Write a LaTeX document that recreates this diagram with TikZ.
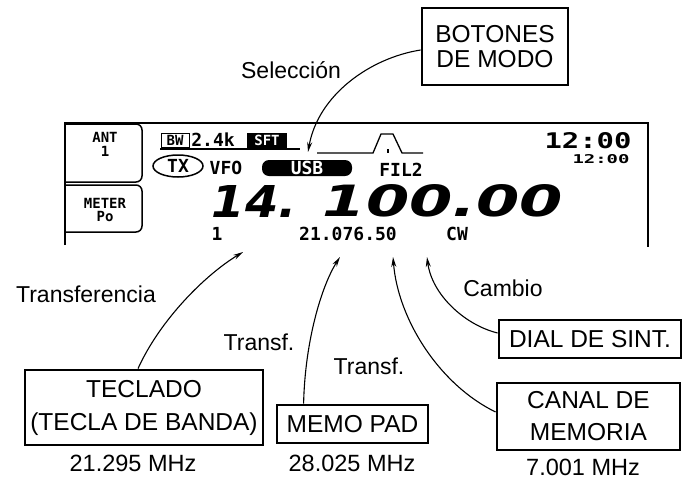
\documentclass[tikz,border=0pt]{standalone}
\usepackage{fontspec}
\setmainfont{Liberation Sans}
\newfontfamily\lcdfont{DejaVu Sans Mono}
\newfontfamily\bigfont{DejaVu Sans}
\usetikzlibrary{arrows.meta,shapes.geometric}
\begin{document}
\begin{tikzpicture}[x=1pt,y=-1pt,
  box/.style={draw,line width=2.8pt,inner sep=0pt,align=center,font=\fontsize{24.5}{28}\selectfont},
  lbl/.style={inner sep=0pt,font=\fontsize{23}{27}\selectfont},
  mhz/.style={inner sep=0pt,font=\fontsize{23.5}{27}\selectfont},
  conn/.style={line width=1.1pt,-{Stealth[length=10pt,width=5pt]}},
  frameline/.style={line width=1.8pt},
  keybox/.style={line width=1.5pt,rounded corners=6pt},
  lcd/.style={inner sep=0pt,font=\lcdfont\bfseries\fontsize{18}{18}\selectfont},
  lcdsmall/.style={inner sep=0pt,font=\lcdfont\bfseries\fontsize{14}{14}\selectfont},
]
\fill[white] (0,0) rectangle (684,479);
\useasboundingbox (0,0) rectangle (684,479);

% display frame
\draw[frameline] (65,245) -- (65,123) -- (648,123) -- (648,247);
\draw[keybox] (65,124) -- (142,124) -- (142,182) -- (65,182);
\draw[keybox] (65,185) -- (142,185) -- (142,232) -- (65,232);
\node[lcdsmall] (ant) at (105,137) {ANT};
\node[lcdsmall] (antone) at (105,151) {1};
\node[lcdsmall] (meter) at (105,203) {METER};
\node[lcdsmall] (po) at (105,216) {Po};

% top row
\node[draw,line width=1pt,minimum width=28pt,minimum height=14pt,lcdsmall] (bw) at (175,140) {BW};
\node[lcd] (bwval) at (213,140) {2.4k};
\draw[line width=1.3pt] (160,149) -- (300,149);
\node[fill=black,text=white,minimum width=40pt,minimum height=15pt,lcdsmall] (sft) at (267,140) {SFT};
\draw[line width=1.3pt] (317,153) -- (373,153) -- (381,134) -- (393,134) -- (402,153) -- (423,153);
\draw[line width=1.2pt] (388,149) -- (388,153);

% second row
\node[ellipse,draw,line width=1.5pt,minimum width=50pt,minimum height=22pt,lcd] (tx) at (178,166) {TX};
\node[lcd] (vfo) at (226,168) {VFO};
\node[fill=black,text=white,rounded corners=7pt,minimum width=90pt,minimum height=16pt,lcd] (usb) at (307,168) {USB};
\node[lcd] (fil) at (401,170) {FIL2};

% clock
\node[inner sep=0pt] (clk) at (588,141) {\resizebox{87pt}{16pt}{\lcdfont\bfseries 12:00}};
\node[inner sep=0pt] (clks) at (601,159) {\resizebox{57pt}{9pt}{\lcdfont\bfseries 12:00}};

% big frequency
\node[inner sep=0pt] (fa) at (254.5,201) {\resizebox{85pt}{32pt}{\bigfont\bfseries\itshape 14.}};
\node[inner sep=0pt] (fb) at (443,201) {\resizebox{240pt}{32pt}{\bigfont\bfseries\itshape 100.00}};

% third row
\node[lcd] (memch) at (217,234) {1};
\node[lcd] (subf) at (348,234) {21.076.50};
\node[lcd] (cw) at (457,234) {CW};

% boxes
\node[box,minimum width=146pt,minimum height=77pt] (botones) at (495,46.5) {BOTONES\\[-3pt]DE MODO};
\node[box,minimum width=238pt,minimum height=75pt] (teclado) at (144,407.5) {TECLADO\\[5pt](TECLA DE BANDA)};
\node[box,minimum width=151pt,minimum height=38pt] (memo) at (352.5,424) {MEMO PAD};
\node[box,minimum width=182pt,minimum height=38pt] (dial) at (590,339) {DIAL DE SINT.};
\node[box,minimum width=183pt,minimum height=67pt] (canal) at (588.5,416.5) {CANAL DE\\[4pt]MEMORIA};

% labels
\node[lbl] (sel) at (291,70) {Selección};
\node[lbl] (transfer) at (86,294) {Transferencia};
\node[lbl] (tra) at (259,342) {Transf.};
\node[lbl] (trb) at (369,366) {Transf.};
\node[lbl] (camb) at (503,288) {Cambio};
\node[mhz] (fq1) at (133,463) {21.295 MHz};
\node[mhz] (fq2) at (352,463) {28.025 MHz};
\node[mhz] (fq3) at (583,467) {7.001 MHz};

% arrow tips
\coordinate (tA) at (243,252);
\coordinate (tB) at (340,257);
\coordinate (tC) at (393,257);
\coordinate (tD) at (427,257);
\coordinate (tE) at (308,152);

\draw[conn] ([yshift=-3.5pt]botones.west) .. controls (370,58) and (318,95) .. (tE);
\draw[conn] ([xshift=-6pt]teclado.north) .. controls (160,320) and (205,275) .. (tA);
\draw[conn] ([xshift=28pt]memo.north west) .. controls (305,340) and (322,285) .. (tB);
\draw[conn] ([yshift=4.5pt]canal.west) .. controls (440,385) and (398,320) .. (tC);
\draw[conn] ([yshift=6pt]dial.west) .. controls (465,325) and (432,295) .. (tD);
\end{tikzpicture}
\end{document}
